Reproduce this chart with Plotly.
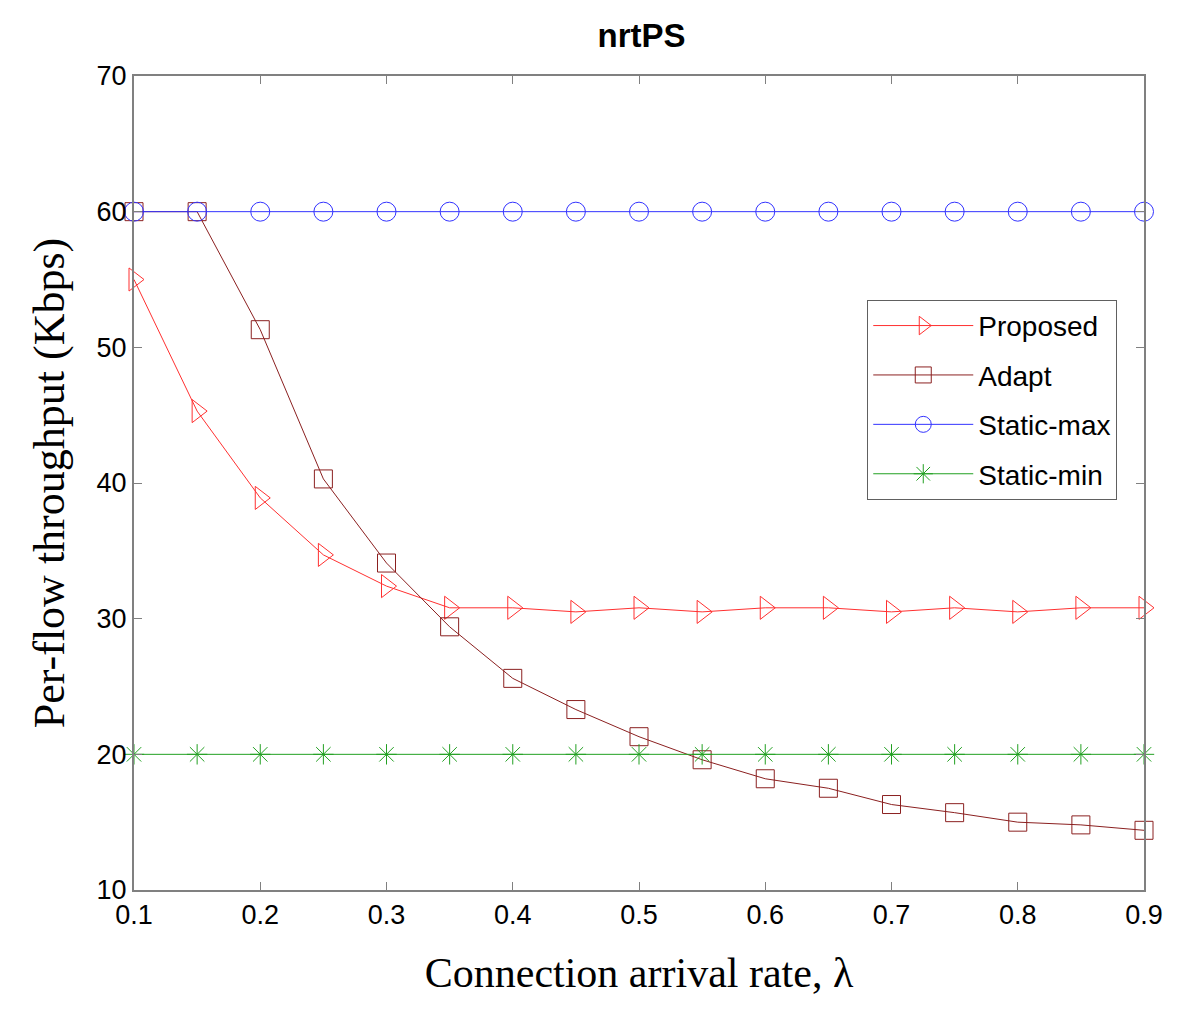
import plotly.graph_objects as go

x = [0.1, 0.15, 0.2, 0.25, 0.3, 0.35, 0.4, 0.45, 0.5, 0.55, 0.6, 0.65, 0.7, 0.75, 0.8, 0.85, 0.9]
proposed = [55.0, 45.3, 38.9, 34.7, 32.4, 30.8, 30.8, 30.5, 30.8, 30.5, 30.8, 30.8, 30.5, 30.8, 30.5, 30.8, 30.8]
adapt = [60.0, 60.0, 51.3, 40.3, 34.1, 29.4, 25.6, 23.3, 21.3, 19.6, 18.2, 17.5, 16.3, 15.7, 15.0, 14.8, 14.4]
static_max = [60] * 17
static_min = [20] * 17

series = [
    ("Proposed", proposed, "#FF3030", "triangle-right-open", 20),
    ("Adapt", adapt, "#8B2020", "square-open", 18),
    ("Static-max", static_max, "#3333FF", "circle-open", 19),
    ("Static-min", static_min, "#22A022", "asterisk-open", 17),
]

fig = go.Figure()
for name, y, color, sym, sz in series:
    fig.add_trace(go.Scatter(
        x=x, y=y, name=name, mode="lines+markers", legendgroup=name,
        line=dict(color=color, width=1),
        marker=dict(symbol=sym, size=sz, color=color, line=dict(color=color, width=1)),
        cliponaxis=False,
    ))

axis_common = dict(
    showgrid=False, zeroline=False, showline=True, linecolor="#808080", linewidth=2,
    mirror="ticks", ticks="inside", ticklen=8, tickcolor="#808080", automargin=False,
    tickfont=dict(family="Liberation Sans, Arial", size=27, color="black"),
)

fig.update_layout(
    width=1200, height=1032,
    paper_bgcolor="white", plot_bgcolor="white",
    margin=dict(l=126, r=64, t=68, b=150),
    title=dict(text="<b>nrtPS</b>", x=0.528, xanchor="center", y=0.973, yanchor="middle",
               font=dict(family="Liberation Sans, Arial", size=33, color="black")),
    xaxis=dict(range=[0.1, 0.9], tickvals=[0.1, 0.2, 0.3, 0.4, 0.5, 0.6, 0.7, 0.8, 0.9],
               ticktext=["0.1", "0.2", "0.3", "0.4", "0.5", "0.6", "0.7", "0.8", "0.9"],
               title=dict(text="Connection arrival rate, λ", standoff=28,
                          font=dict(family="Liberation Serif, Times New Roman", size=42, color="black")),
               **axis_common),
    yaxis=dict(range=[10, 70], tickvals=[10, 20, 30, 40, 50, 60, 70],
               title=dict(text="Per-flow throughput (Kbps)", standoff=18,
                          font=dict(family="Liberation Serif, Times New Roman", size=44, color="black")),
               **axis_common),
    legend=dict(x=0.726, y=0.725, xanchor="left", yanchor="top",
                bgcolor="white", bordercolor="#606060", borderwidth=1,
                font=dict(family="Liberation Sans, Arial", size=28, color="black"),
                tracegroupgap=10, itemwidth=100),
    showlegend=True,
)

fig.write_html("out.html")
